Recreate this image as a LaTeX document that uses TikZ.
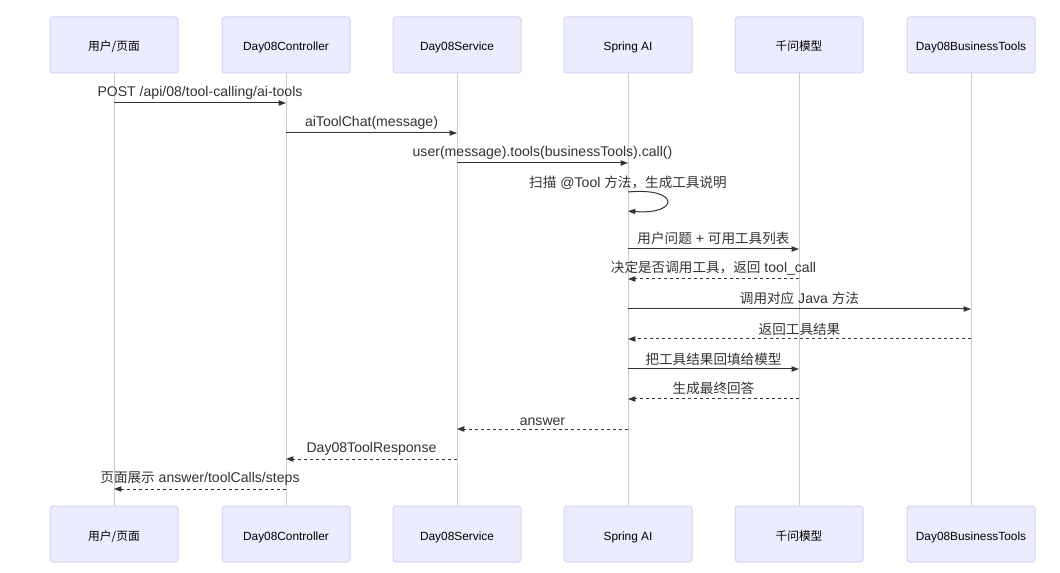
\documentclass[tikz,border=0pt]{standalone}
\usepackage{fontspec}
\setmainfont{Liberation Sans}[Scale=1.035]
\newfontfamily\cjk{Noto Sans CJK SC}
\usetikzlibrary{arrows.meta}
\definecolor{boxfill}{HTML}{ECECFF}
\definecolor{boxdraw}{HTML}{D6D2F5}
\definecolor{lifeline}{HTML}{CCCCCC}
\definecolor{msg}{HTML}{333333}
\newcommand{\boxcjk}{\fontsize{8.8}{10}\selectfont\cjk}
\tikzset{
  actor/.style={draw=boxdraw, fill=boxfill, line width=0.75pt, rounded corners=2.25pt,
    minimum width=128*0.75pt, minimum height=56*0.75pt, inner sep=0pt, text height=9pt, text depth=0pt,
    font=\fontsize{8.6}{10}\selectfont},
  life/.style={draw=lifeline, line width=0.75pt},
  call/.style={draw=msg, line width=0.75pt, -{Triangle[length=5.5pt,width=4pt]}},
  reply/.style={call, dash pattern=on 2.25pt off 2.25pt},
  lbl/.style={inner sep=0pt, above=2.5pt, font=\fontsize{10.2}{12}\selectfont, text=msg}
}
\begin{document}
\begin{tikzpicture}[x=0.75pt,y=-0.75pt]
\useasboundingbox[fill=white] (0,0) rectangle (1060,573);
% top actors
\node[actor] (ta) at (114,45) {{\boxcjk 用户/页面}};
\node[actor] (tb) at (286,45) {Day08Controller};
\node[actor] (tc) at (457,45) {Day08Service};
\node[actor] (td) at (628,45) {Spring AI};
\node[actor] (te) at (799,45) {{\boxcjk 千问模型}};
\node[actor] (tf) at (971,45) {Day08BusinessTools};
% bottom actors
\node[actor] (ba) at (114,534) {{\boxcjk 用户/页面}};
\node[actor] (bb) at (286,534) {Day08Controller};
\node[actor] (bc) at (457,534) {Day08Service};
\node[actor] (bd) at (628,534) {Spring AI};
\node[actor] (be) at (799,534) {{\boxcjk 千问模型}};
\node[actor] (bf) at (971,534) {Day08BusinessTools};
% lifelines
\foreach \p in {a,b,c,d,e,f}{
  \draw[life] (t\p.south) -- (b\p.north);
}
% messages
\draw[call] (ta |- 0,103) -- node[lbl]{POST /api/08/tool-calling/ai-tools} (tb |- 0,103);
\draw[call] (tb |- 0,133) -- node[lbl]{aiToolChat(message)} (tc |- 0,133);
\draw[call] (tc |- 0,163) -- node[lbl]{user(message).tools(businessTools).call()} (td |- 0,163);
\coordinate (loopS) at (td |- 0,192);
\coordinate (loopE) at (td |- 0,211);
\node[inner sep=0pt, font=\fontsize{10.2}{12}\selectfont, text=msg] (looplbl) at (628,183) {{\cjk 扫描} @Tool {\cjk 方法，生成工具说明}};
\draw[call] (loopS) .. controls (680,187) and (680,215) .. (loopE);
\draw[call] (td |- 0,249) -- node[lbl]{{\cjk 用户问题} + {\cjk 可用工具列表}} (te |- 0,249);
\draw[reply] (te |- 0,279) -- node[lbl]{{\cjk 决定是否调用工具，返回} tool\_call} (td |- 0,279);
\draw[call] (td |- 0,309) -- node[lbl]{{\cjk 调用对应} Java {\cjk 方法}} (tf |- 0,309);
\draw[reply] (tf |- 0,339) -- node[lbl]{\cjk 返回工具结果} (td |- 0,339);
\draw[call] (td |- 0,369) -- node[lbl]{\cjk 把工具结果回填给模型} (te |- 0,369);
\draw[reply] (te |- 0,399) -- node[lbl]{\cjk 生成最终回答} (td |- 0,399);
\draw[reply] (td |- 0,429) -- node[lbl]{answer} (tc |- 0,429);
\draw[reply] (tc |- 0,459) -- node[lbl]{Day08ToolResponse} (tb |- 0,459);
\draw[reply] (tb |- 0,489) -- node[lbl]{{\cjk 页面展示} answer/toolCalls/steps} (ta |- 0,489);
\end{tikzpicture}
\end{document}
